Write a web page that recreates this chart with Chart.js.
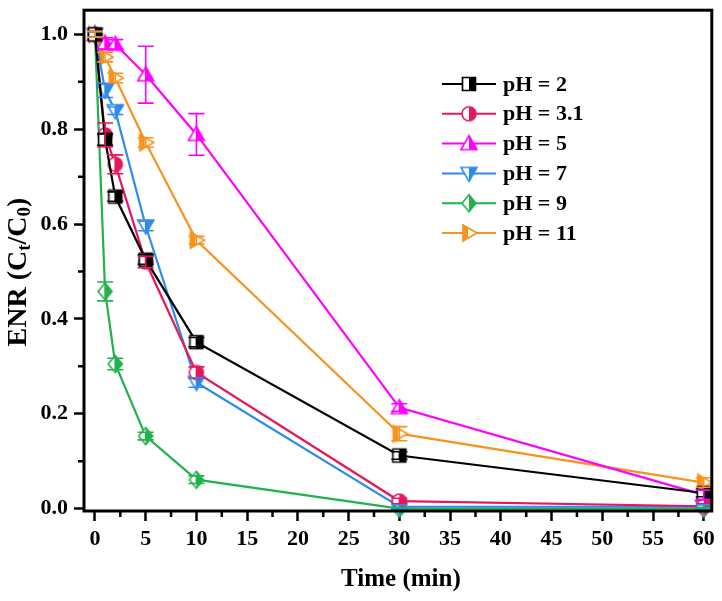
<!DOCTYPE html>
<html>
<head>
<meta charset="utf-8">
<script src="https://cdn.jsdelivr.net/npm/chart.js@4.4.1/dist/chart.umd.min.js"></script>
<style>
  html, body { margin: 0; padding: 0; background: #fff; }
  #wrap { width: 722px; height: 601px; }
</style>
</head>
<body>
<div id="wrap"><canvas id="enrChart" width="722" height="601"></canvas></div>
<script>
// Dados
const times = [0, 1, 2, 5, 10, 30, 60];
const seriesNames = ["pH = 2", "pH = 3.1", "pH = 5", "pH = 7", "pH = 9", "pH = 11"];

const ph2 = [1.0, 0.778, 0.658, 0.525, 0.351, 0.112, 0.033];
const ph31 = [1.0, 0.788, 0.726, 0.52, 0.287, 0.016, 0.005];
const ph5 = [1.0, 0.981, 0.979, 0.915, 0.789, 0.213, 0.029];
const ph7 = [1.0, 0.882, 0.839, 0.596, 0.266, 0.004, 0.004];
const ph9 = [1.0, 0.458, 0.305, 0.153, 0.061, 0.0, 0.0];
const ph11 = [1.0, 0.952, 0.908, 0.772, 0.566, 0.158, 0.055];

// barras de erro (+/-)
const ph2Err = [0.006, 0.012, 0.01, 0.01, 0.01, 0.008, 0.008];
const ph31Err = [0.006, 0.025, 0.02, 0.012, 0.012, 0.006, 0.005];
const ph5Err = [0.006, 0.012, 0.01, 0.06, 0.044, 0.008, 0.01];
const ph7Err = [0.006, 0.015, 0.008, 0.01, 0.01, 0.004, 0.004];
const ph9Err = [0.006, 0.02, 0.012, 0.008, 0.008, 0.003, 0.003];
const ph11Err = [0.006, 0.01, 0.01, 0.01, 0.008, 0.015, 0.01];

const xTicks = [0, 5, 10, 15, 20, 25, 30, 35, 40, 45, 50, 55, 60];
const xMinorTicks = [2.5, 7.5, 12.5, 17.5, 22.5, 27.5, 32.5, 37.5, 42.5, 47.5, 52.5, 57.5];
const yTicks = [0, 0.2, 0.4, 0.6, 0.8, 1.0];
const yMinorTicks = [0.1, 0.3, 0.5, 0.7, 0.9];

const cores = ["#000000", "#E8175D", "#FF00FF", "#2E8BEB", "#22B14C", "#F7931E"];
const formas = ["square", "circle", "triUp", "triDown", "diamond", "triRight"];
const valores = [ph2, ph31, ph5, ph7, ph9, ph11];
const erros = [ph2Err, ph31Err, ph5Err, ph7Err, ph9Err, ph11Err];

const serif = "'Liberation Serif', 'Times New Roman', serif";

// marcador meio preenchido (metade branca, metade colorida)
function makeMarker(shape, color) {
  const s = 20, m = s / 2;
  const c = document.createElement("canvas");
  c.width = s; c.height = s;
  const g = c.getContext("2d");
  const p = new Path2D();
  if (shape === "square") {
    p.rect(m - 6.5, m - 6.5, 13, 13);
  } else if (shape === "circle") {
    p.arc(m, m, 7, 0, Math.PI * 2);
  } else if (shape === "triUp") {
    p.moveTo(m, m - 8); p.lineTo(m + 8, m + 6); p.lineTo(m - 8, m + 6); p.closePath();
  } else if (shape === "triDown") {
    p.moveTo(m, m + 8); p.lineTo(m + 8, m - 6); p.lineTo(m - 8, m - 6); p.closePath();
  } else if (shape === "diamond") {
    p.moveTo(m, m - 8.5); p.lineTo(m + 7, m); p.lineTo(m, m + 8.5); p.lineTo(m - 7, m); p.closePath();
  } else {
    p.moveTo(m + 8, m); p.lineTo(m - 6, m - 8); p.lineTo(m - 6, m + 8); p.closePath();
  }
  g.fillStyle = "#fff";
  g.fill(p);
  g.save();
  g.beginPath();
  if (shape === "triRight") g.rect(0, 0, m - 1, s);
  else g.rect(m, 0, m, s);
  g.clip();
  g.fillStyle = color;
  g.fill(p);
  g.restore();
  g.lineWidth = 1.6;
  g.strokeStyle = color;
  g.stroke(p);
  return c;
}

const marcadores = formas.map((f, i) => makeMarker(f, cores[i]));

// barras de erro, ticks menores, moldura, títulos e legenda
const extras = {
  id: "extras",
  afterDatasetsDraw(chart) {
    const ctx = chart.ctx;
    const xs = chart.scales.x, ys = chart.scales.y;
    ctx.save();
    erros.forEach((errs, di) => {
      ctx.strokeStyle = cores[di];
      ctx.lineWidth = 1.6;
      errs.forEach((e, i) => {
        const x = xs.getPixelForValue(times[i]);
        const yTop = ys.getPixelForValue(valores[di][i] + e);
        const yBot = ys.getPixelForValue(valores[di][i] - e);
        ctx.beginPath();
        ctx.moveTo(x, yTop); ctx.lineTo(x, yBot);
        ctx.moveTo(x - 8, yTop); ctx.lineTo(x + 8, yTop);
        ctx.moveTo(x - 8, yBot); ctx.lineTo(x + 8, yBot);
        ctx.stroke();
      });
    });
    ctx.restore();
  },
  afterDraw(chart) {
    const ctx = chart.ctx;
    const a = chart.chartArea;
    const xs = chart.scales.x, ys = chart.scales.y;
    ctx.save();
    // moldura
    ctx.strokeStyle = "#000";
    ctx.lineWidth = 3;
    ctx.strokeRect(a.left, a.top, a.right - a.left, a.bottom - a.top);
    // ticks menores
    ctx.lineWidth = 2.5;
    ctx.beginPath();
    xMinorTicks.forEach((v) => {
      const x = xs.getPixelForValue(v);
      ctx.moveTo(x, a.bottom); ctx.lineTo(x, a.bottom + 6);
    });
    yMinorTicks.forEach((v) => {
      const y = ys.getPixelForValue(v);
      ctx.moveTo(a.left, y); ctx.lineTo(a.left - 6, y);
    });
    ctx.stroke();

    // título eixo x
    ctx.fillStyle = "#000";
    ctx.font = "bold 25px " + serif;
    ctx.textAlign = "center";
    ctx.textBaseline = "middle";
    ctx.fillText("Time (min)", (a.left + a.right) / 2 + 3, 580);

    // título eixo y com subscritos
    const partes = [
      ["ENR (C", false], ["t", true], ["/C", false], ["0", true], [")", false],
    ];
    const big = "bold 28px " + serif, small = "bold 19px " + serif;
    let total = 0;
    partes.forEach(([t, sub]) => {
      ctx.font = sub ? small : big;
      total += ctx.measureText(t).width;
    });
    ctx.translate(19, 272);
    ctx.rotate(-Math.PI / 2);
    ctx.textAlign = "left";
    let px = -total / 2;
    partes.forEach(([t, sub]) => {
      ctx.font = sub ? small : big;
      ctx.fillText(t, px, sub ? 6 : 0);
      px += ctx.measureText(t).width;
    });
    ctx.setTransform(chart.currentDevicePixelRatio, 0, 0, chart.currentDevicePixelRatio, 0, 0);

    // legenda
    ctx.font = "bold 22px " + serif;
    ctx.textAlign = "left";
    ctx.textBaseline = "middle";
    seriesNames.forEach((nome, i) => {
      const y = 84 + i * 29.8;
      ctx.strokeStyle = cores[i];
      ctx.lineWidth = 2;
      ctx.beginPath();
      ctx.moveTo(442, y); ctx.lineTo(496, y);
      ctx.stroke();
      const mk = marcadores[i];
      ctx.drawImage(mk, 469 - mk.width / 2, y - mk.height / 2);
      ctx.fillStyle = "#000";
      ctx.fillText(nome, 503, y + 1);
    });
    ctx.restore();
  },
};

const datasets = seriesNames.map((nome, i) => ({
  label: nome,
  data: times.map((t, k) => ({ x: t, y: valores[i][k] })),
  borderColor: cores[i],
  backgroundColor: cores[i],
  borderWidth: 2.2,
  pointStyle: marcadores[i],
  pointRadius: 8,
  pointHoverRadius: 8,
  tension: 0,
  clip: false,
}));

const tickFont = { family: serif, size: 22, weight: "bold" };

new Chart(document.getElementById("enrChart").getContext("2d"), {
  type: "line",
  data: { datasets },
  options: {
    responsive: false,
    animation: false,
    devicePixelRatio: 1,
    layout: { padding: { top: 7, right: 10, left: 0, bottom: 0 } },
    plugins: { legend: { display: false }, tooltip: { enabled: false } },
    scales: {
      x: {
        type: "linear",
        min: -1.08,
        max: 60.79,
        afterBuildTicks: (s) => { s.ticks = xTicks.map((v) => ({ value: v })); },
        afterFit: (s) => {
          s.height = 90;
          s.paddingLeft = 0; s.paddingRight = 0;
        },
        ticks: { font: tickFont, color: "#000", padding: 5, maxRotation: 0, autoSkip: false },
        grid: { drawOnChartArea: false, tickLength: 10, tickWidth: 2.5, tickColor: "#000" },
        border: { display: false },
      },
      y: {
        type: "linear",
        min: -0.005,
        max: 1.051,
        afterBuildTicks: (s) => { s.ticks = yTicks.map((v) => ({ value: v })); },
        afterFit: (s) => {
          s.width = 84;
          s.paddingTop = 0; s.paddingBottom = 0;
        },
        ticks: {
          font: tickFont, color: "#000", padding: 6, autoSkip: false,
          callback: (v) => v.toFixed(1),
        },
        grid: { drawOnChartArea: false, tickLength: 10, tickWidth: 2.5, tickColor: "#000" },
        border: { display: false },
      },
    },
  },
  plugins: [extras],
});
</script>
</body>
</html>
